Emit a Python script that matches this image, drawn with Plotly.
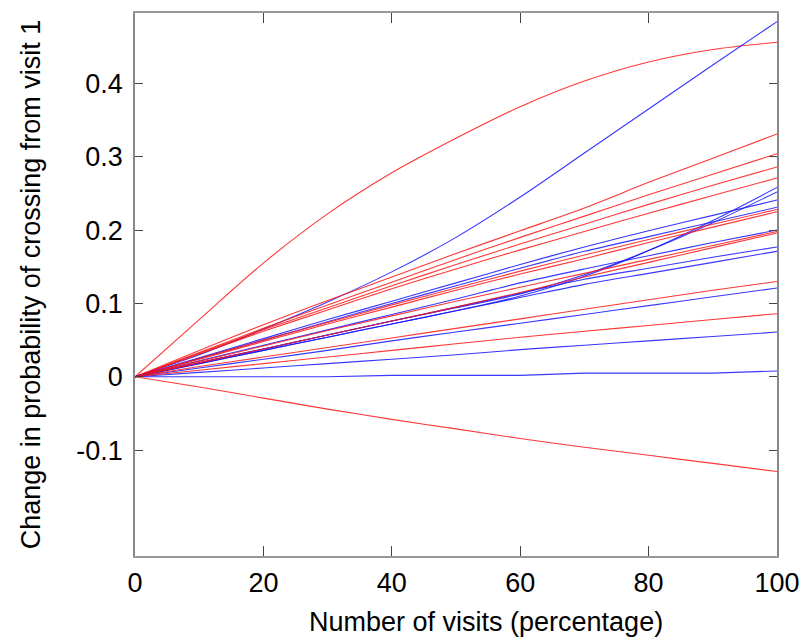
import plotly.graph_objects as go

# Visits (percentage) at which values were read
visits = [0, 10, 20, 30, 40, 50, 60, 70, 80, 90, 100]

# Red series (change in probability)
red_0 = [0, .078, .155, .222, .278, .325, .368, .403, .429, .446, .456]
red_1 = [0, .036, .071, .104, .136, .168, .199, .230, .265, .298, .331]
red_2 = [0, .033, .066, .098, .129, .160, .190, .219, .248, .276, .304]
red_3 = [0, .032, .064, .094, .124, .153, .181, .208, .235, .261, .286]
red_4 = [0, .031, .062, .091, .120, .147, .173, .198, .223, .247, .271]
red_5 = [0, .025, .050, .074, .098, .121, .144, .166, .187, .208, .228]
red_6 = [0, .024, .048, .072, .095, .118, .140, .161, .183, .204, .225]
red_7 = [0, .021, .042, .063, .083, .103, .122, .141, .160, .179, .198]
red_8 = [0, .019, .038, .057, .076, .095, .115, .136, .156, .176, .196]
red_9 = [0, .014, .027, .040, .053, .066, .079, .092, .105, .118, .130]
red_10 = [0, .009, .018, .027, .036, .045, .054, .062, .070, .078, .086]
red_11 = [0, -.014, -.029, -.044, -.058, -.071, -.084, -.096, -.107, -.118, -.129]

# Blue series
blue_0 = [0, .030, .065, .102, .143, .190, .245, .305, .365, .425, .484]
blue_1 = [0, .018, .036, .054, .072, .090, .110, .137, .172, .213, .258]
blue_2 = [0, .019, .038, .057, .076, .094, .113, .139, .172, .210, .252]
blue_3 = [0, .026, .052, .078, .103, .128, .153, .177, .199, .220, .241]
blue_4 = [0, .025, .050, .075, .100, .124, .148, .171, .191, .211, .231]
blue_5 = [0, .022, .043, .064, .085, .106, .128, .147, .165, .183, .200]
blue_6 = [0, .019, .038, .057, .076, .095, .114, .133, .148, .163, .177]
blue_7 = [0, .018, .036, .054, .072, .090, .108, .126, .141, .156, .171]
blue_8 = [0, .012, .024, .036, .049, .061, .073, .085, .097, .109, .121]
blue_9 = [0, .006, .012, .018, .024, .030, .037, .043, .049, .055, .061]
blue_10 = [0, 0, 0, 0, .002, .002, .002, .005, .005, .005, .008]

red_series = [red_0, red_1, red_2, red_3, red_4, red_5, red_6, red_7, red_8, red_9, red_10, red_11]
blue_series = [blue_0, blue_1, blue_2, blue_3, blue_4, blue_5, blue_6, blue_7, blue_8, blue_9, blue_10]

x_ticks = [0, 20, 40, 60, 80, 100]
y_ticks = [0.4, 0.3, 0.2, 0.1, 0, -0.1]
y_tick_text = ["0.4", "0.3", "0.2", "0.1", "0", "-0.1"]
top_minor_ticks = [15.85, 32.65, 49.45, 66.25, 83.05]

x_title = "Number of visits (percentage)"
y_title = "Change in probability of crossing from visit 1"

RED = "rgba(255,20,20,0.85)"
BLUE = "rgba(20,20,255,0.85)"

fig = go.Figure()
n = max(len(red_series), len(blue_series))
for i in range(n):
    if i < len(red_series):
        fig.add_trace(go.Scatter(x=visits, y=red_series[i], mode="lines",
                                 line=dict(color=RED, width=1.1, shape="spline", smoothing=0.8),
                                 hoverinfo="skip"))
    if i < len(blue_series):
        shape = "linear" if blue_series[i] is blue_10 else "spline"
        fig.add_trace(go.Scatter(x=visits, y=blue_series[i], mode="lines",
                                 line=dict(color=BLUE, width=1.1, shape=shape, smoothing=0.8),
                                 hoverinfo="skip"))

font = dict(family="Liberation Sans, Arial, sans-serif", size=27, color="black")

fig.update_layout(
    width=801, height=640,
    margin=dict(l=135, r=24, t=13, b=84),
    paper_bgcolor="white", plot_bgcolor="white",
    showlegend=False,
    font=font,
    xaxis=dict(
        range=[0, 100], tickvals=x_ticks, ticks="inside", ticklen=10,
        tickcolor="#444", tickwidth=1, showline=True, linecolor="#999",
        linewidth=1.5, mirror="ticks", showgrid=False, zeroline=False,
        tickfont=font, ticklabelstandoff=2, automargin=False,
    ),
    xaxis2=dict(
        range=[0, 100], overlaying="x", side="top", tickvals=top_minor_ticks,
        ticks="outside", ticklen=2, tickcolor="#999", showticklabels=False,
        showline=False, showgrid=False, zeroline=False, automargin=False,
    ),
    yaxis=dict(
        range=[-0.2442, 0.4958], tickvals=y_ticks, ticktext=y_tick_text,
        ticks="inside", ticklen=8, tickcolor="#444", tickwidth=1,
        showline=True, linecolor="#888", linewidth=1.5, mirror="ticks",
        showgrid=False, zeroline=False, tickfont=font, ticklabelstandoff=5,
        automargin=False,
        title=dict(text=y_title, font=font, standoff=28),
    ),
    annotations=[dict(
        text=x_title, xref="paper", yref="paper", x=0.547, y=-0.121,
        xanchor="center", yanchor="middle", showarrow=False, font=font,
    )],
)

fig.write_html("out.html",
               config={"displayModeBar": False},
               post_script="document.body.style.margin='0';document.body.style.overflow='hidden';")
